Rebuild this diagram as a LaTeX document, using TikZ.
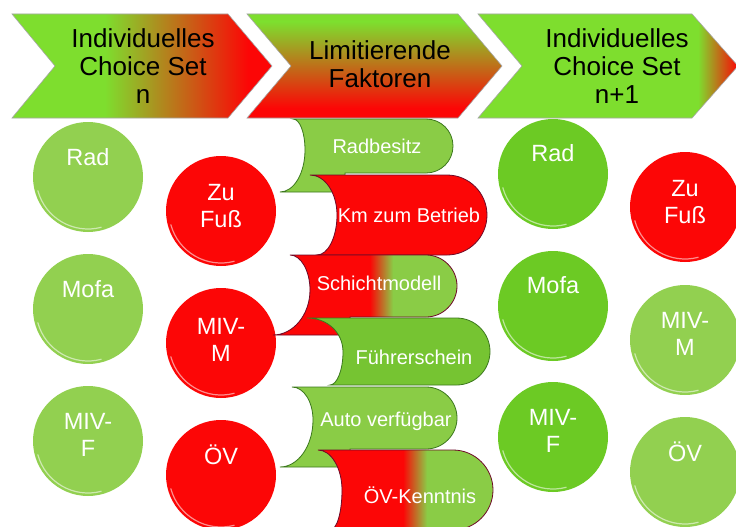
\documentclass[tikz,border=0pt]{standalone}
\usepackage{fontspec}
\setmainfont{Liberation Sans}
\usetikzlibrary{calc}
\definecolor{cgreen}{RGB}{146,208,80}
\definecolor{cgreenB}{RGB}{108,202,36}
\definecolor{chgreen}{RGB}{126,222,46}
\definecolor{cred}{RGB}{252,6,6}
\definecolor{tgreen}{RGB}{138,204,70}
\definecolor{tgreenB}{RGB}{118,196,50}
\definecolor{tgreenD}{RGB}{60,120,30}
\definecolor{tredD}{RGB}{110,10,40}
\begin{document}
\begin{tikzpicture}[x=1pt,y=-1pt,
  ball/.style={circle, minimum size=110pt, inner sep=0pt, draw=none},
  btxt/.style={text=white, font=\fontsize{23.5}{27}\selectfont, align=center, inner sep=0pt},
  chtxt/.style={text=black, font=\fontsize{26}{28}\selectfont, align=center, inner sep=0pt},
  tabtxt/.style={text=white, font=\fontsize{20}{24}\selectfont, inner sep=0pt},
  chedge/.style={draw=black!35, line width=0.6pt},
  gedge/.style={draw=tgreenD, line width=0.8pt},
  redge/.style={draw=tredD, line width=0.8pt}]
\useasboundingbox (0,0) rectangle (736,527);
\fill[white] (0,0) rectangle (736,527);

% ---------- chevrons ----------
\def\chA{(12,14) -- (228,14) -- (272,66) -- (228,118) -- (12,118) -- (55,66) -- cycle}
\def\chB{(247,14) -- (458,14) -- (502,66) -- (458,118) -- (247,118) -- (291,66) -- cycle}
\def\chC{(478,14) -- (692,14) -- (738,66) -- (692,118) -- (478,118) -- (522,66) -- cycle}
\begin{scope}
  \clip \chA;
  \fill[chgreen] (0,0) rectangle (105,130);
  \shade[left color=chgreen, right color=cred] (105,0) rectangle (248,130);
  \fill[cred] (248,0) rectangle (280,130);
\end{scope}
\draw[chedge] \chA;
\begin{scope}
  \clip \chB;
  \fill[chgreen] (240,0) rectangle (510,22);
  \shade[top color=chgreen, bottom color=cred] (240,22) rectangle (510,108);
  \fill[cred] (240,108) rectangle (510,130);
\end{scope}
\draw[chedge] \chB;
\begin{scope}
  \clip \chC;
  \fill[chgreen] (470,0) rectangle (698,130);
  \shade[left color=chgreen, right color=cred] (698,0) rectangle (738,130);
\end{scope}
\draw[chedge] \chC;
\node[chtxt] (h1) at (143,66) {Individuelles\\Choice Set\\n};
\node[chtxt] (h2) at (380,64) {Limitierende\\Faktoren};
\node[chtxt] (h3) at (617,66) {Individuelles\\Choice Set\\n+1};

% ---------- left circles ----------
\node[ball, fill=cgreen] (lrad) at (88,177) {};
\node[ball, fill=cgreen] (lmofa) at (88,309) {};
\node[ball, fill=cgreen] (lmivf) at (88,441) {};
\node[ball, fill=cred] (lfuss) at (221,211) {};
\node[ball, fill=cred] (lmivm) at (221,343) {};
\node[ball, fill=cred] (loev) at (221,475) {};
\node[btxt] (tlrad) at (88,157) {Rad};
\node[btxt] (tlmofa) at (88,289) {Mofa};
\node[btxt] (tlmivf) at (88,435) {MIV-\\F};
\node[btxt] (tlfuss) at (221,206) {Zu\\Fuß};
\node[btxt] (tlmivm) at (221,340) {MIV-\\M};
\node[btxt] (tloev) at (221,455) {ÖV};

% ---------- tabs ----------
\def\tabA{(293,119) -- (426,119) .. controls (441,119) and (453,131) .. (453,146) .. controls (453,161) and (441,173) .. (426,173) -- (345,173) -- (345,192) -- (280,192) .. controls (294,192) and (305,173) .. (305,150) .. controls (305,133) and (300,119) .. (293,119) -- cycle}
\def\tabB{(310,175) -- (447,175) .. controls (469,175) and (487,193) .. (487,215) .. controls (487,237) and (469,255) .. (447,255) -- (317,255) .. controls (328,255) and (337,237) .. (337,215) .. controls (337,193) and (325,175) .. (310,175) -- cycle}
\def\tabC{(290,255) -- (426,255) .. controls (443,255) and (457,269) .. (457,286) .. controls (457,303) and (443,317) .. (426,317) -- (350,317) -- (350,335) -- (273,335) .. controls (293,335) and (310,315) .. (310,290) .. controls (310,271) and (301,255) .. (290,255) -- cycle}
\def\tabD{(307,318) -- (456.5,318) .. controls (475,318) and (490,333) .. (490,351.5) .. controls (490,370) and (475,385) .. (456.5,385) -- (330,385) .. controls (337,385) and (343,370) .. (343,352) .. controls (343,332) and (327,318) .. (307,318) -- cycle}
\def\tabE{(292,387) -- (426,387) .. controls (443,387) and (457,401) .. (457,418) .. controls (457,435) and (443,449) .. (426,449) -- (350,449) -- (350,467) -- (280,467) .. controls (298,467) and (313,446) .. (313,420) .. controls (313,402) and (304,387) .. (292,387) -- cycle}
\def\tabF{(318,450) -- (453,450) .. controls (475,450) and (493,468) .. (493,490) .. controls (493,512) and (475,530) .. (453,530) -- (330,530) .. controls (337,530) and (342,512) .. (342,490) .. controls (342,468) and (331,450) .. (318,450) -- cycle}

\fill[tgreen] \tabA; \draw[gedge] \tabA;
\fill[cred] \tabB; \draw[redge] \tabB;
\begin{scope}
  \clip \tabC;
  \fill[cred] (260,250) rectangle (370,340);
  \shade[left color=cred, right color=tgreen] (370,250) rectangle (393,340);
  \fill[tgreen] (393,250) rectangle (470,340);
\end{scope}
\draw[redge] \tabC;
\fill[tgreenB] \tabD; \draw[gedge] \tabD;
\fill[tgreen] \tabE; \draw[gedge] \tabE;
\begin{scope}
  \clip \tabF;
  \fill[cred] (300,445) rectangle (403,535);
  \shade[left color=cred, right color=tgreen] (403,445) rectangle (427,535);
  \fill[tgreen] (427,445) rectangle (500,535);
\end{scope}
\draw[redge] \tabF;

\node[tabtxt] (f1) at (377,146) {Radbesitz};
\node[tabtxt] (f2) at (409,215) {Km zum Betrieb};
\node[tabtxt] (f3) at (379,283) {Schichtmodell};
\node[tabtxt] (f4) at (414,357) {Führerschein};
\node[tabtxt] (f5) at (386,421) {Auto verfügbar};
\node[tabtxt] (f6) at (420,495) {ÖV-Kenntnis};

% ---------- right circles ----------
\node[ball, fill=cgreenB] (rrad) at (553,174) {};
\node[ball, fill=cgreenB] (rmofa) at (553,306) {};
\node[ball, fill=cgreenB] (rmivf) at (553,437) {};
\node[ball, fill=cred] (rfuss) at (685,207) {};
\node[ball, fill=cgreen] (rmivm) at (685,340) {};
\node[ball, fill=cgreen] (roev) at (685,472) {};
\node[btxt] (trrad) at (553,153) {Rad};
\node[btxt] (trmofa) at (553,285) {Mofa};
\node[btxt] (trmivf) at (553,431) {MIV-\\F};
\node[btxt] (trfuss) at (685,202) {Zu\\Fuß};
\node[btxt] (trmivm) at (685,334) {MIV-\\M};
\node[btxt] (troev) at (685,452) {ÖV};

% highlights on circles
\foreach \c in {lrad,lmofa,lmivf,lfuss,lmivm,loev,rrad,rmofa,rmivf,rfuss,rmivm,roev}{
  \draw[white, opacity=0.55, line width=1.2pt] (\c.center) ++(195:52pt) arc[start angle=195, end angle=285, radius=52pt];
}
\end{tikzpicture}
\end{document}
